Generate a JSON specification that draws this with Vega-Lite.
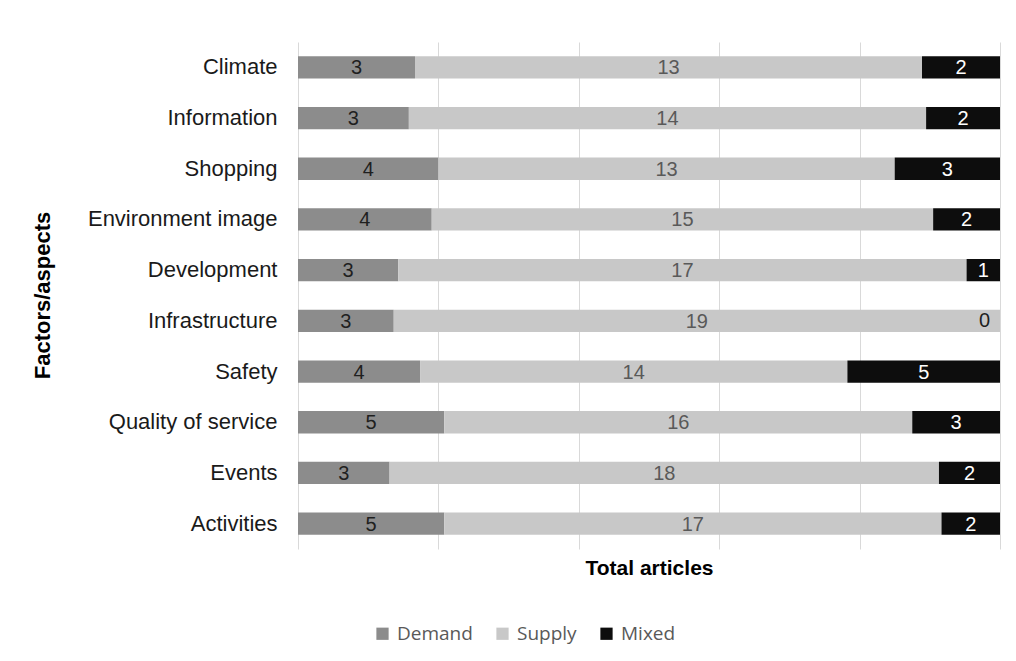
{
  "$schema": "https://vega.github.io/schema/vega-lite/v6.json",
  "width": 702,
  "height": 507,
  "autosize": {"type": "none"},
  "padding": {"left": 298, "top": 42, "right": 16, "bottom": 112},
  "background": "white",
  "config": {"view": {"stroke": null}, "font": "Liberation Sans"},
  "data": {
    "values": [
      {"factor": "Climate", "type": "Demand", "ord": 1, "value": 3},
      {"factor": "Climate", "type": "Supply", "ord": 2, "value": 13},
      {"factor": "Climate", "type": "Mixed", "ord": 3, "value": 2},
      {"factor": "Information", "type": "Demand", "ord": 1, "value": 3},
      {"factor": "Information", "type": "Supply", "ord": 2, "value": 14},
      {"factor": "Information", "type": "Mixed", "ord": 3, "value": 2},
      {"factor": "Shopping", "type": "Demand", "ord": 1, "value": 4},
      {"factor": "Shopping", "type": "Supply", "ord": 2, "value": 13},
      {"factor": "Shopping", "type": "Mixed", "ord": 3, "value": 3},
      {"factor": "Environment image", "type": "Demand", "ord": 1, "value": 4},
      {"factor": "Environment image", "type": "Supply", "ord": 2, "value": 15},
      {"factor": "Environment image", "type": "Mixed", "ord": 3, "value": 2},
      {"factor": "Development", "type": "Demand", "ord": 1, "value": 3},
      {"factor": "Development", "type": "Supply", "ord": 2, "value": 17},
      {"factor": "Development", "type": "Mixed", "ord": 3, "value": 1},
      {"factor": "Infrastructure", "type": "Demand", "ord": 1, "value": 3},
      {"factor": "Infrastructure", "type": "Supply", "ord": 2, "value": 19},
      {"factor": "Infrastructure", "type": "Mixed", "ord": 3, "value": 0},
      {"factor": "Safety", "type": "Demand", "ord": 1, "value": 4},
      {"factor": "Safety", "type": "Supply", "ord": 2, "value": 14},
      {"factor": "Safety", "type": "Mixed", "ord": 3, "value": 5},
      {"factor": "Quality of service", "type": "Demand", "ord": 1, "value": 5},
      {"factor": "Quality of service", "type": "Supply", "ord": 2, "value": 16},
      {"factor": "Quality of service", "type": "Mixed", "ord": 3, "value": 3},
      {"factor": "Events", "type": "Demand", "ord": 1, "value": 3},
      {"factor": "Events", "type": "Supply", "ord": 2, "value": 18},
      {"factor": "Events", "type": "Mixed", "ord": 3, "value": 2},
      {"factor": "Activities", "type": "Demand", "ord": 1, "value": 5},
      {"factor": "Activities", "type": "Supply", "ord": 2, "value": 17},
      {"factor": "Activities", "type": "Mixed", "ord": 3, "value": 2}
    ]
  },
  "encoding": {
    "y": {
      "field": "factor",
      "type": "nominal",
      "sort": ["Climate", "Information", "Shopping", "Environment image", "Development", "Infrastructure", "Safety", "Quality of service", "Events", "Activities"],
      "scale": {"paddingInner": 0.56, "paddingOuter": 0.28},
      "axis": {
        "title": "Factors/aspects",
        "titleFont": "Liberation Sans",
        "titleFontSize": 22,
        "titleFontWeight": "bold",
        "titleColor": "#000000",
        "titleAngle": -90,
        "titleX": -256,
        "titleY": 253,
        "titleAlign": "center",
        "titleBaseline": "middle",
        "labelFont": "Liberation Sans",
        "labelFontSize": 22,
        "labelColor": "#1a1a1a",
        "labelPadding": 21,
        "labelLimit": 400,
        "ticks": false,
        "domain": false,
        "grid": false
      }
    }
  },
  "layer": [
    {
      "mark": {"type": "bar"},
      "encoding": {
        "x": {
          "field": "value",
          "type": "quantitative",
          "stack": "normalize",
          "scale": {"domain": [0, 1], "nice": false},
          "axis": {
            "title": "Total articles",
            "titleFont": "Liberation Sans",
            "titleFontSize": 21,
            "titleFontWeight": "bold",
            "titleColor": "#000000",
            "titleY": 19,
            "titleBaseline": "middle",
            "labels": false,
            "ticks": false,
            "domain": false,
            "grid": true,
            "gridColor": "#d9d9d9",
            "gridWidth": 1,
            "values": [0, 0.2, 0.4, 0.6, 0.8, 1]
          }
        },
        "color": {
          "field": "type",
          "type": "nominal",
          "scale": {"domain": ["Demand", "Supply", "Mixed"], "range": ["#8c8c8c", "#c8c8c8", "#0d0d0d"]},
          "legend": {
            "title": null,
            "orient": "none",
            "direction": "horizontal",
            "legendX": 75,
            "legendY": 582,
            "symbolType": "square",
            "symbolSize": 150,
            "symbolStrokeWidth": 0,
            "labelFont": "Open Sans",
            "labelFontSize": 19,
            "labelColor": "#595959",
            "labelOffset": 5,
            "columnPadding": 20
          }
        },
        "order": {"field": "ord", "type": "quantitative", "sort": "ascending"}
      }
    },
    {
      "transform": [
        {"stack": "value", "groupby": ["factor"], "sort": [{"field": "ord", "order": "ascending"}], "offset": "normalize", "as": ["x0", "x1"]},
        {"calculate": "(datum.x0 + datum.x1) / 2", "as": "mid"},
        {"filter": "datum.value > 0"}
      ],
      "mark": {"type": "text", "font": "Liberation Sans", "fontSize": 20, "align": "center", "baseline": "middle", "dy": 1},
      "encoding": {
        "x": {"field": "mid", "type": "quantitative"},
        "text": {"field": "value", "type": "quantitative"},
        "color": {
          "condition": [
            {"test": "datum.type === 'Mixed'", "value": "#ffffff"},
            {"test": "datum.type === 'Supply'", "value": "#595959"}
          ],
          "value": "#1f1f1f"
        }
      }
    },
    {
      "transform": [
        {"stack": "value", "groupby": ["factor"], "sort": [{"field": "ord", "order": "ascending"}], "offset": "normalize", "as": ["x0", "x1"]},
        {"filter": "datum.value === 0"}
      ],
      "mark": {"type": "text", "font": "Liberation Sans", "fontSize": 20, "align": "right", "baseline": "middle", "dy": 0, "dx": -10, "color": "#1f1f1f"},
      "encoding": {
        "x": {"field": "x1", "type": "quantitative"},
        "text": {"field": "value", "type": "quantitative"}
      }
    }
  ]
}
